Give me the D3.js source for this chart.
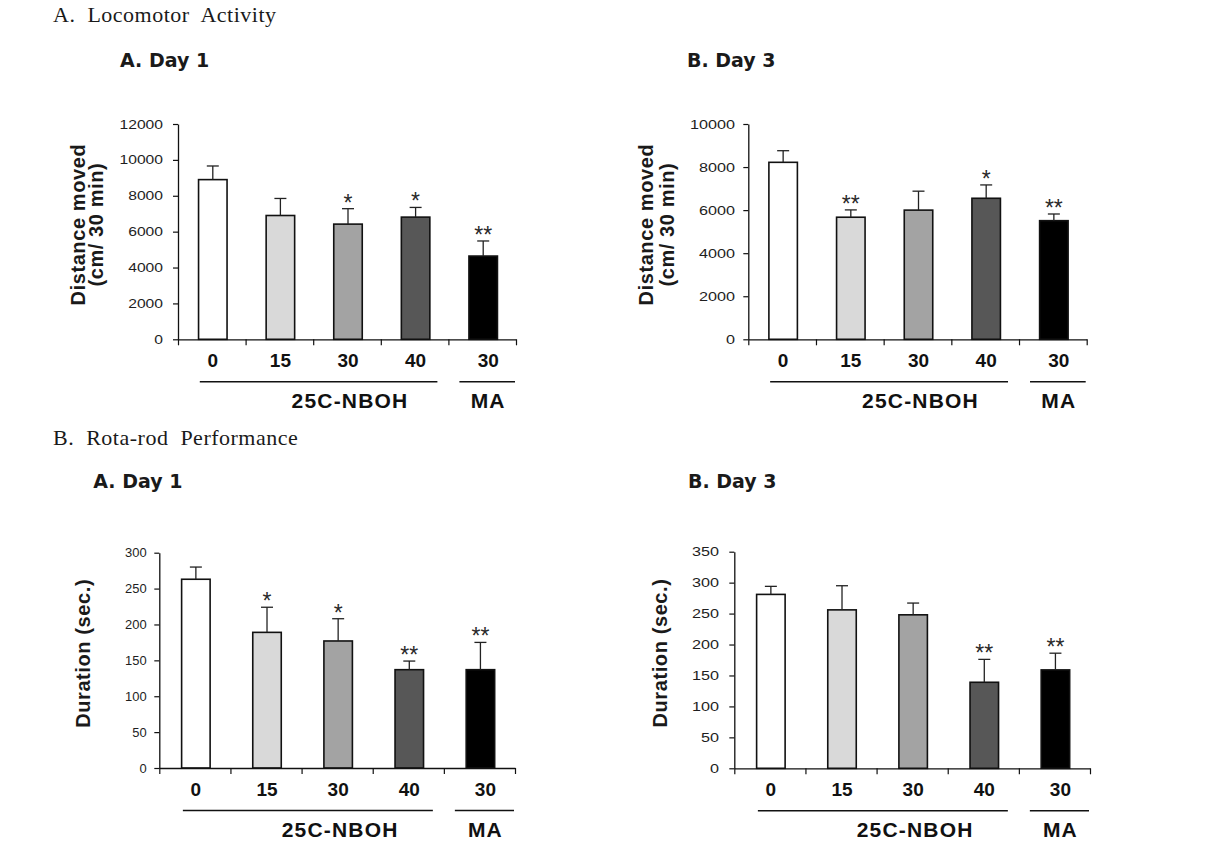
<!DOCTYPE html>
<html>
<head>
<meta charset="utf-8">
<script src="https://cdn.jsdelivr.net/npm/d3@7"></script>
<style>
  html, body { margin: 0; padding: 0; background: #fff; }
  svg { display: block; }
  text { font-family: "Liberation Sans", Arial, sans-serif; }
</style>
</head>
<body>
<svg id="chart" width="1209" height="857"></svg>
<script>
// ---------------- DATA ----------------
const categories = ["0", "15", "30", "40", "30"];
const groupNames = ["25C-NBOH", "MA"];
const groupMembers = [[0, 3], [4, 4]];

const locoDay1Mean = [8900, 6900, 6420, 6810, 4640];
const locoDay1Err  = [760, 950, 860, 540, 840];
const locoDay1Sig  = ["", "", "*", "*", "**"];
const locoDay1Ticks = [0, 2000, 4000, 6000, 8000, 10000, 12000];

const locoDay3Mean = [8220, 5670, 6000, 6550, 5510];
const locoDay3Err  = [540, 340, 880, 620, 310];
const locoDay3Sig  = ["", "**", "", "*", "**"];
const locoDay3Ticks = [0, 2000, 4000, 6000, 8000, 10000];

const rotaDay1Mean = [263, 189, 177, 137, 137];
const rotaDay1Err  = [17, 35, 31, 12, 38];
const rotaDay1Sig  = ["", "*", "*", "**", "**"];
const rotaDay1Ticks = [0, 50, 100, 150, 200, 250, 300];

const rotaDay3Mean = [281, 256, 248, 139, 159];
const rotaDay3Err  = [13, 39, 19, 37, 27];
const rotaDay3Sig  = ["", "", "", "**", "**"];
const rotaDay3Ticks = [0, 50, 100, 150, 200, 250, 300, 350];

const sectionTitles = ["A.  Locomotor  Activity", "B.  Rota-rod  Performance"];
const panelTitles = ["A. Day 1", "B. Day 3", "A. Day 1", "B. Day 3"];
const locoYTitle = ["Distance moved", "(cm/ 30 min)"];
const rotaYTitle = ["Duration (sec.)"];

// ---------------- STYLE / LAYOUT ----------------
const barColors = ["#ffffff", "#d9d9d9", "#a3a3a3", "#575757", "#000000"];

const panels = [
  { mean: locoDay1Mean, err: locoDay1Err, sig: locoDay1Sig, ticks: locoDay1Ticks, yTitle: locoYTitle, title: panelTitles[0],
    axisX: 178, y0: 339.3, yTop: 124, xEnd: 516, titleX: 120, titleY: 67, digitW: 8.7, pad: 10, yTitleDX: [-93, -75] },
  { mean: locoDay3Mean, err: locoDay3Err, sig: locoDay3Sig, ticks: locoDay3Ticks, yTitle: locoYTitle, title: panelTitles[1],
    axisX: 748.3, y0: 339.3, yTop: 124, xEnd: 1086.7, titleX: 687, titleY: 67, digitW: 9.0, pad: 8.3, yTitleDX: [-95, -74] },
  { mean: rotaDay1Mean, err: rotaDay1Err, sig: rotaDay1Sig, ticks: rotaDay1Ticks, yTitle: rotaYTitle, title: panelTitles[2],
    axisX: 159.3, y0: 768, yTop: 552.7, xEnd: 515, titleX: 93.3, titleY: 488, digitW: 7.2, pad: 7.6, yTitleDX: [-69] },
  { mean: rotaDay3Mean, err: rotaDay3Err, sig: rotaDay3Sig, ticks: rotaDay3Ticks, yTitle: rotaYTitle, title: panelTitles[3],
    axisX: 734.3, y0: 768.3, yTop: 551.7, xEnd: 1090, titleX: 688, titleY: 488, digitW: 9.0, pad: 10.3, yTitleDX: [-67] }
];

const svg = d3.select("#chart");

// section headers
sectionTitles.forEach((t, k) => {
  svg.append("text").attr("x", 53).attr("y", k === 0 ? 22 : 445).text(t)
    .style("font-family", "'Liberation Serif', 'Times New Roman', serif").style("font-size", "22px")
    .style("letter-spacing", "0.5px").style("white-space", "pre").attr("fill", "#1a1a1a");
});

panels.forEach(p => {
  const g = svg.append("g");
  const yMax = p.ticks[p.ticks.length - 1];
  const y = d3.scaleLinear().domain([0, yMax]).range([p.y0, p.yTop]);
  const step = (p.xEnd - p.axisX) / categories.length;
  const pad = 1 - 28.5 / step;
  const x = d3.scaleBand().domain(d3.range(categories.length)).range([p.axisX, p.xEnd])
    .paddingInner(pad).paddingOuter(pad / 2);
  const xb = d3.scaleLinear().domain([0, categories.length]).range([p.axisX, p.xEnd]);

  // title
  g.append("text").attr("x", p.titleX).attr("y", p.titleY).text(p.title)
    .style("font-family", "'DejaVu Sans', sans-serif").style("font-weight", "bold")
    .style("font-size", "19px").attr("fill", "#1a1a1a");

  // bars
  g.selectAll("rect.bar").data(p.mean).join("rect").attr("class", "bar")
    .attr("x", (d, i) => x(i) + 1).attr("width", x.bandwidth())
    .attr("y", d => y(d)).attr("height", d => p.y0 - y(d))
    .attr("fill", (d, i) => barColors[i]).attr("stroke", "#111").attr("stroke-width", 1.6);

  // error bars
  p.mean.forEach((m, i) => {
    const cx = x(i) + 1 + x.bandwidth() / 2;
    const top = y(m + p.err[i]);
    g.append("line").attr("x1", cx).attr("x2", cx).attr("y1", y(m)).attr("y2", top)
      .attr("stroke", "#222").attr("stroke-width", 1.3);
    g.append("line").attr("x1", cx - 6).attr("x2", cx + 6).attr("y1", top).attr("y2", top)
      .attr("stroke", "#222").attr("stroke-width", 1.3);
    if (p.sig[i]) {
      g.append("text").attr("x", cx).attr("y", top + 2).attr("text-anchor", "middle")
        .text(p.sig[i]).style("font-size", "23px").attr("fill", "#2a2a2a");
    }
  });

  // y axis
  const ya = g.append("g").attr("transform", `translate(${p.axisX},0)`)
    .call(d3.axisLeft(y).tickValues(p.ticks).tickSize(5).tickSizeOuter(0).tickPadding(p.pad).tickFormat(d3.format("d")));
  ya.select(".domain").attr("stroke", "#111").attr("stroke-width", 1.3);
  ya.selectAll(".tick line").attr("stroke", "#111").attr("stroke-width", 1.2);
  ya.selectAll(".tick text").style("font-size", "12.5px")
    .attr("textLength", d => String(d).length * p.digitW).attr("lengthAdjust", "spacingAndGlyphs")
    .attr("fill", "#1e1e1e").style("font-family", "'Liberation Sans', Arial, sans-serif");

  // x axis
  const xa = g.append("g").attr("transform", `translate(0,${p.y0})`)
    .call(d3.axisBottom(xb).ticks(categories.length).tickSize(6).tickSizeOuter(0).tickFormat(""));
  xa.select(".domain").attr("stroke", "#111").attr("stroke-width", 1.3);
  xa.selectAll(".tick line").attr("stroke", "#111").attr("stroke-width", 1.2);

  // category labels
  g.selectAll("text.cat").data(categories).join("text").attr("class", "cat")
    .attr("x", (d, i) => x(i) + 1 + x.bandwidth() / 2 + (i === 4 ? 5 : 0))
    .attr("y", p.y0 + 28).attr("text-anchor", "middle")
    .text(d => d).style("font-size", "19px").style("font-weight", "bold").attr("fill", "#111");

  // group lines and names
  const lineY = p.y0 + 42.5;
  const g0s = x(groupMembers[0][0]) + x.bandwidth() / 2 - 12;
  const g0e = xb(groupMembers[0][1] + 1) - 11;
  const g1s = xb(groupMembers[1][0]) + 11;
  const g1e = p.xEnd - 1;
  g.append("line").attr("x1", g0s).attr("x2", g0e).attr("y1", lineY).attr("y2", lineY)
    .attr("stroke", "#111").attr("stroke-width", 1.4);
  g.append("line").attr("x1", g1s).attr("x2", g1e).attr("y1", lineY).attr("y2", lineY)
    .attr("stroke", "#111").attr("stroke-width", 1.4);
  g.append("text").attr("x", x(2) + 1 + x.bandwidth() / 2 + 2).attr("y", p.y0 + 69)
    .attr("text-anchor", "middle").text(groupNames[0])
    .style("font-size", "21px").style("font-weight", "bold").style("letter-spacing", "1.2px").attr("fill", "#111");
  g.append("text").attr("x", x(4) + 1 + x.bandwidth() / 2 + 5).attr("y", p.y0 + 69)
    .attr("text-anchor", "middle").text(groupNames[1])
    .style("font-size", "21px").style("font-weight", "bold").style("letter-spacing", "1.2px").attr("fill", "#111");

  // y title (translate x is the text baseline; glyphs extend leftwards)
  const mid = (p.y0 + p.yTop) / 2 - 7;
  p.yTitle.forEach((t, k) => {
    g.append("text").attr("transform", `translate(${p.axisX + p.yTitleDX[k]},${mid}) rotate(-90)`)
      .attr("text-anchor", "middle").text(t)
      .style("font-size", "20px").style("font-weight", "bold").style("letter-spacing", "0.6px")
      .attr("fill", "#1a1a1a");
  });
});
</script>
</body>
</html>
